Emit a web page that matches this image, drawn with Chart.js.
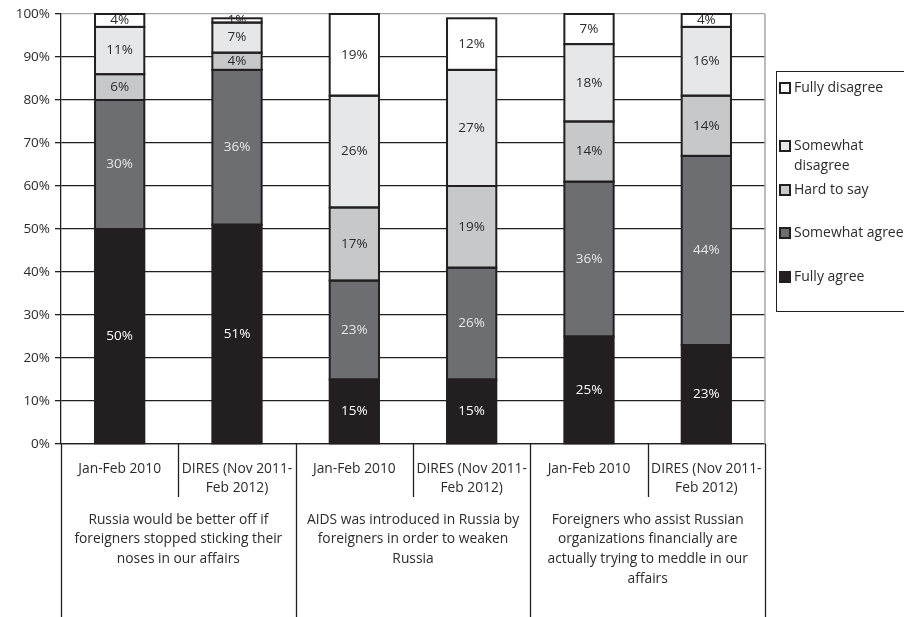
<!DOCTYPE html>
<html>
<head>
<meta charset="utf-8">
<script src="https://cdn.jsdelivr.net/npm/chart.js@4.4.1/dist/chart.umd.min.js"></script>
<style>
  html, body { margin: 0; padding: 0; background: #fff; overflow: hidden; }
  #wrap { position: relative; width: 904px; height: 617px; }
  #legend {
    position: absolute; left: 776px; top: 71px; width: 140px; height: 241px;
    border: 1px solid #231f20; box-sizing: border-box;
    font-family: "Open Sans", sans-serif; font-size: 14px; color: #2b2b2b;
  }
  .item { position: absolute; left: 2px; display: flex; align-items: flex-start; white-space: pre; line-height: 20px; }
  .swatch { width: 8px; height: 8px; border: 2px solid #231f20; margin: 5px 3px 0 0; flex: none; }
</style>
</head>
<body>
<div id="wrap">
  <canvas id="chart" width="904" height="617"></canvas>
  <div id="legend"></div>
</div>
<script>
const categories = [
    'Jan-Feb 2010', ['DIRES (Nov 2011-', 'Feb 2012)'],
    'Jan-Feb 2010', ['DIRES (Nov 2011-', 'Feb 2012)'],
    'Jan-Feb 2010', ['DIRES (Nov 2011-', 'Feb 2012)']
];
const groups = [
    ['Russia would be better off if', 'foreigners stopped sticking their', 'noses in our affairs'],
    ['AIDS was introduced in Russia by', 'foreigners in order to weaken', 'Russia'],
    ['Foreigners who assist Russian', 'organizations financially are', 'actually trying to meddle in our', 'affairs']
];
const seriesNames = ['Fully agree', 'Somewhat agree', 'Hard to say', 'Somewhat\ndisagree', 'Fully disagree'];
const fullyAgree = [50, 51, 15, 15, 25, 23];
const somewhatAgree = [30, 36, 23, 26, 36, 44];
const hardToSay = [6, 4, 17, 19, 14, 14];
const somewhatDisagree = [11, 7, 26, 27, 18, 16];
const fullyDisagree = [4, 1, 19, 12, 7, 4];
const yTicks = [0, 10, 20, 30, 40, 50, 60, 70, 80, 90, 100];

const fills = ['#231f20', '#6d6e71', '#c7c8ca', '#e6e7e8', '#ffffff'];
const labelColors = ['#ffffff', '#e6e6e6', '#2b2b2b', '#2b2b2b', '#2b2b2b'];
const FONT = '"Open Sans", sans-serif';
const INK = '#231f20';
const TEXT = '#2b2b2b';

// legend, top to bottom: Fully disagree ... Fully agree
const legendTops = [5, 63, 107, 150, 194];
const legendEl = document.getElementById('legend');
[4, 3, 2, 1, 0].forEach((s, n) => {
    const item = document.createElement('div');
    item.className = 'item';
    item.style.top = legendTops[n] + 'px';
    item.innerHTML = '<span class="swatch" style="background:' + fills[s] + '"></span><span></span>';
    item.lastChild.textContent = seriesNames[s];
    legendEl.appendChild(item);
});

// outline every segment with one centred stroke, then write its value inside
const segmentLabels = {
    id: 'segmentLabels',
    afterDatasetsDraw(chart) {
        const ctx = chart.ctx;
        const top = chart.chartArea.top;
        ctx.save();
        ctx.strokeStyle = INK;
        ctx.lineWidth = 2;
        chart.data.datasets.forEach((ds, d) => {
            chart.getDatasetMeta(d).data.forEach(bar => {
                const p = bar.getProps(['x', 'y', 'base', 'width'], true);
                const y1 = Math.max(p.y, top);
                ctx.strokeRect(p.x - p.width / 2, y1, p.width, p.base - y1);
            });
        });
        ctx.font = '13.5px ' + FONT;
        ctx.textAlign = 'center';
        ctx.textBaseline = 'middle';
        chart.data.datasets.forEach((ds, d) => {
            chart.getDatasetMeta(d).data.forEach((bar, i) => {
                const p = bar.getProps(['x', 'y', 'base'], true);
                const y1 = Math.max(p.y, top);
                ctx.fillStyle = labelColors[d];
                ctx.fillText(ds.data[i] + '%', p.x, (y1 + p.base) / 2);
            });
        });
        ctx.restore();
    }
};

// category separators below the axis and the frame on the right
const separators = {
    id: 'separators',
    afterDraw(chart) {
        const ctx = chart.ctx;
        const x = chart.scales.x;
        const area = chart.chartArea;
        const n = categories.length;
        const slot = (x.right - x.left) / n;
        ctx.save();
        ctx.strokeStyle = '#a6a6a6';
        ctx.lineWidth = 1.5;
        ctx.beginPath();
        ctx.moveTo(x.right, area.top);
        ctx.lineTo(x.right, area.bottom);
        ctx.stroke();
        ctx.strokeStyle = INK;
        ctx.lineWidth = 1.3;
        for (let i = 0; i <= n; i++) {
            const px = Math.round(x.left + i * slot) + 0.5;
            const end = i % 2 === 0 ? chart.height : area.bottom + 53;
            ctx.beginPath();
            ctx.moveTo(px, area.bottom);
            ctx.lineTo(px, end);
            ctx.stroke();
        }
        ctx.restore();
    }
};

function series(i, data) {
    return {
        label: seriesNames[i].replace('\n', ' '),
        data: data,
        backgroundColor: fills[i],
        borderWidth: 0,
        categoryPercentage: 1,
        barPercentage: 0.42
    };
}

const tickFont = { family: FONT, size: 13.8, lineHeight: 1.42 };

new Chart(document.getElementById('chart'), {
    type: 'bar',
    data: {
        labels: categories,
        datasets: [
            series(0, fullyAgree),
            series(1, somewhatAgree),
            series(2, hardToSay),
            series(3, somewhatDisagree),
            series(4, fullyDisagree)
        ]
    },
    options: {
        responsive: false,
        animation: false,
        layout: { padding: { top: 14, right: 139, left: 0, bottom: 0 } },
        plugins: { legend: { display: false }, tooltip: { enabled: false } },
        scales: {
            x: {
                stacked: true,
                grid: { display: false },
                border: { display: true, color: INK, width: 1.3 },
                ticks: { color: TEXT, font: tickFont, padding: 7, maxRotation: 0, autoSkip: false },
                afterFit: s => { s.height = 57; }
            },
            groups: {
                type: 'category',
                position: 'bottom',
                labels: groups,
                grid: { display: false },
                border: { display: false },
                ticks: { color: TEXT, font: tickFont, padding: 1, maxRotation: 0, autoSkip: false },
                afterFit: s => { s.height = 116; }
            },
            y: {
                stacked: true,
                min: 0,
                max: 100,
                afterBuildTicks: s => { s.ticks = yTicks.map(v => ({ value: v })); },
                grid: {
                    color: c => c.tick.value === 100 ? '#a6a6a6' : INK,
                    lineWidth: 1.3,
                    tickLength: 6,
                    tickColor: INK
                },
                border: { display: true, color: INK, width: 1.3 },
                ticks: { color: TEXT, font: { family: FONT, size: 13.5 }, padding: 5, callback: v => v + '%' },
                afterFit: s => { s.width = 61; }
            }
        }
    },
    plugins: [segmentLabels, separators]
});
</script>
</body>
</html>
